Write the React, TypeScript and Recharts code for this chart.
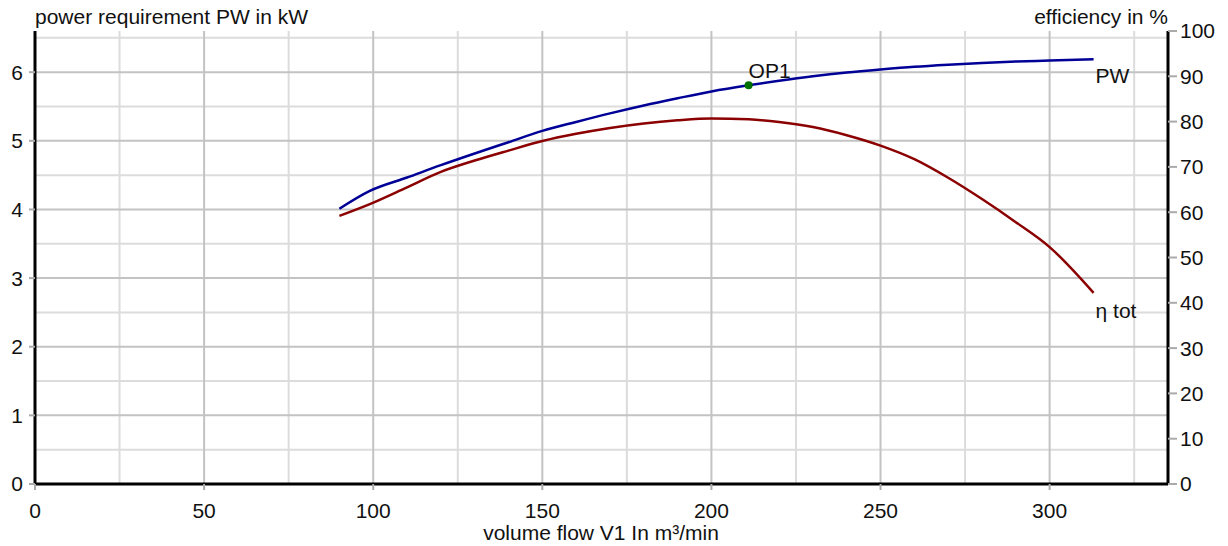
import React from 'react';
import { ComposedChart, Line, XAxis, YAxis, CartesianGrid, ReferenceDot } from 'recharts';

// volume flow V1 in m³/min
const flow = [90, 99, 110, 120, 130, 140, 150, 160, 170, 180, 190, 200, 211, 220, 230, 240, 250, 260, 270, 280, 290, 300, 313];
// power requirement PW in kW
const powerKw = [4.01, 4.27, 4.465, 4.645, 4.815, 4.98, 5.145, 5.275, 5.4, 5.515, 5.62, 5.72, 5.81, 5.875, 5.94, 5.995, 6.04, 6.08, 6.11, 6.135, 6.155, 6.17, 6.19];
// total efficiency in %
const efficiencyPct = [59.2, 61.8, 65.5, 68.9, 71.4, 73.6, 75.7, 77.3, 78.6, 79.6, 80.3, 80.7, 80.5, 79.9, 78.8, 77.0, 74.7, 71.7, 67.6, 62.9, 57.8, 52.3, 42.2];

const opName = 'OP1';
const opFlow = 211;
const opPower = 5.81;

const flowTicks = [0, 50, 100, 150, 200, 250, 300];
const flowGridMinor = [25, 75, 125, 175, 225, 275, 325];
const powerTicks = [0, 1, 2, 3, 4, 5, 6];
const powerGridMinor = [0.5, 1.5, 2.5, 3.5, 4.5, 5.5, 6.5];
const effTicks = [0, 10, 20, 30, 40, 50, 60, 70, 80, 90, 100];

const data = flow.map((f, i) => ({ flow: f, pw: powerKw[i], eta: efficiencyPct[i] }));

const FONT = '"Liberation Sans", Arial, sans-serif';
const tickStyle = { fontFamily: FONT, fontSize: 21, fill: '#111' };
const frame = { stroke: '#000', strokeWidth: 3 };
const tickMark = { stroke: '#aaa', strokeWidth: 2 };

export default function App() {
  return (
    <div style={{ position: 'absolute', left: 0, top: 0, width: 1228, height: 546, background: '#fff' }}>
      <ComposedChart width={1228} height={546} data={data} margin={{ top: 31, right: 10, bottom: 32, left: 5 }}>
        <CartesianGrid yAxisId="pw" stroke="#dcdcdc" strokeWidth={2}
          verticalValues={flowGridMinor} horizontalValues={powerGridMinor} />
        <CartesianGrid yAxisId="pw" stroke="#c3c3c3" strokeWidth={2}
          verticalValues={flowTicks} horizontalValues={powerTicks} />
        <XAxis dataKey="flow" type="number" domain={[0, 335]} ticks={flowTicks} allowDataOverflow
          height={30} tick={tickStyle} tickSize={6} tickMargin={13} tickLine={tickMark} axisLine={frame} />
        <XAxis xAxisId="top" dataKey="flow" type="number" domain={[0, 335]} orientation="top"
          height={0} tick={false} tickLine={false} axisLine={frame} />
        <YAxis yAxisId="pw" domain={[0, 6.6]} ticks={powerTicks} allowDataOverflow width={30}
          tick={tickStyle} tickSize={6} tickMargin={6} tickLine={tickMark} axisLine={frame} />
        <YAxis yAxisId="eta" orientation="right" domain={[0, 100]} ticks={effTicks} width={50}
          tick={tickStyle} tickSize={9} tickMargin={3} tickLine={tickMark} axisLine={frame} />
        <Line yAxisId="pw" dataKey="pw" type="monotone" stroke="#000096" strokeWidth={2.5} dot={false} isAnimationActive={false} />
        <Line yAxisId="eta" dataKey="eta" type="monotone" stroke="#8b0000" strokeWidth={2.5} dot={false} isAnimationActive={false} />
        <ReferenceDot yAxisId="pw" x={opFlow} y={opPower}
          shape={(p: any) => (
            <g>
              <circle cx={p.cx} cy={p.cy} r={4} fill="#007000" />
              <text x={p.cx} y={p.cy - 7} style={tickStyle}>{opName}</text>
            </g>
          )} />
        <ReferenceDot yAxisId="pw" x={flow[flow.length - 1]} y={powerKw[powerKw.length - 1]}
          shape={(p: any) => <text x={p.cx + 2} y={p.cy + 24} style={tickStyle}>PW</text>} />
        <ReferenceDot yAxisId="eta" x={flow[flow.length - 1]} y={efficiencyPct[efficiencyPct.length - 1]}
          shape={(p: any) => <text x={p.cx + 2} y={p.cy + 25} style={tickStyle}>η tot</text>} />
      </ComposedChart>
      <svg width={1228} height={546} style={{ position: 'absolute', left: 0, top: 0, pointerEvents: 'none' }}>
        <text x={35} y={24} style={tickStyle}>power requirement PW in kW</text>
        <text x={1168} y={24} textAnchor="end" style={tickStyle}>efficiency in %</text>
        <text x={601} y={540} textAnchor="middle" style={tickStyle}>volume flow V1 In m³/min</text>
      </svg>
    </div>
  );
}
